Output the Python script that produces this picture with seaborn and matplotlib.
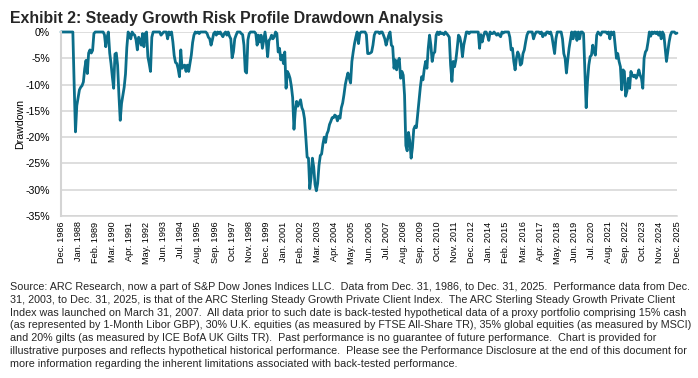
import matplotlib
matplotlib.use("Agg")
import matplotlib.pyplot as plt
import pandas as pd
import seaborn as sns

dd_1986 = [0.0]
dd_1987 = [0.0, 0.0, 0.0, 0.0, 0.0, 0.0, 0.0, 0.0, 0.0, -10.0, -19.0, -14.0]
dd_1988 = [-12.5, -11.0, -10.5, -10.2, -9.5, -7.0, -5.4, -7.9, -4.0, -3.4, -4.0, -3.5]
dd_1989 = [-0.3, 0.0, 0.0, 0.0, 0.0, 0.0, 0.0, 0.0, -0.5, -2.8, -1.0, 0.0]
dd_1990 = [-4.0, -6.0, -8.5, -10.7, -4.2, -4.0, -6.3, -12.0, -16.8, -13.6, -12.0, -10.5]
dd_1991 = [-8.0, -3.0, 0.0, -0.5, -1.3, 0.0, -0.4, -0.6, -1.5, -3.4, -1.0, -1.5]
dd_1992 = [-2.5, -0.3, -2.8, -0.3, 0.0, -4.7, -6.0, -7.5, -1.0, 0.0, 0.0, 0.0]
dd_1993 = [0.0, 0.0, 0.0, -0.6, -0.3, 0.0, 0.0, 0.0, -1.3, 0.0, -0.5, 0.0]
dd_1994 = [-1.9, -4.5, -5.8, -6.0, -7.0, -8.5, -3.4, -6.9, -6.5, -6.3, -7.5, -6.3]
dd_1995 = [-7.5, -6.0, -4.4, -2.0, -0.6, 0.0, -0.2, 0.0, -0.3, 0.0, 0.0, 0.0]
dd_1996 = [0.0, 0.0, -0.3, -1.0, -1.3, -2.5, -1.5, -0.3, 0.0, -0.6, 0.0, -0.3]
dd_1997 = [0.0, -0.5, -0.9, -0.3, 0.0, -0.6, 0.0, -0.8, -1.3, -4.9, -3.8, -1.3]
dd_1998 = [-0.6, 0.0, 0.0, 0.0, -0.3, -0.5, -2.5, -7.5, -7.8, -1.5, -0.3, 0.0]
dd_1999 = [0.0, 0.0, 0.0, -0.3, -2.5, -0.6, -1.9, -0.6, -3.1, -1.5, 0.0, -1.9]
dd_2000 = [-4.7, -1.6, -1.3, -0.6, -1.3, -0.9, 0.0, -0.3, -3.8, -3.1, -5.3, -4.4]
dd_2001 = [-6.0, -3.8, -10.7, -7.5, -8.0, -8.8, -10.3, -12.5, -18.5, -15.0, -13.2, -14.1]
dd_2002 = [-13.5, -12.9, -14.4, -15.0, -16.5, -20.0, -23.8, -24.0, -29.8, -27.6, -24.0, -25.7]
dd_2003 = [-29.0, -30.2, -28.8, -25.4, -23.5, -23.2, -21.3, -20.0, -21.0, -19.4, -18.8, -17.6]
dd_2004 = [-17.0, -16.3, -16.3, -15.8, -16.0, -16.9, -16.0, -16.4, -14.4, -13.5, -11.9, -10.0]
dd_2005 = [-8.8, -7.8, -8.8, -9.7, -5.6, -3.8, -2.2, -1.0, 0.0, -2.2, -0.3, 0.0]
dd_2006 = [0.0, 0.0, 0.0, -0.5, -4.1, -4.1, -4.0, -3.8, -2.5, -0.6, 0.0, 0.0]
dd_2007 = [0.0, -0.3, 0.0, 0.0, -0.6, -1.3, -2.5, -1.5, -0.6, 0.0, -2.5, -2.8]
dd_2008 = [-6.9, -5.3, -7.2, -5.6, -5.0, -8.8, -7.5, -8.2, -12.0, -21.6, -22.6, -19.1]
dd_2009 = [-20.7, -24.0, -22.0, -18.5, -17.9, -18.2, -15.7, -13.2, -10.5, -8.5, -9.1, -7.0]
dd_2010 = [-5.6, -6.9, -3.1, -0.6, -2.5, -5.6, -4.1, -3.8, -0.6, 0.0, -0.5, 0.0]
dd_2011 = [-0.3, -0.2, -0.5, 0.0, -0.3, -0.6, -1.0, -6.3, -9.4, -5.6, -6.6, -5.3]
dd_2012 = [-3.1, -0.6, -1.0, -2.2, -4.7, -2.5, -1.3, 0.0, 0.0, -0.3, 0.0, 0.0]
dd_2013 = [0.0, 0.0, 0.0, 0.0, 0.0, -3.1, -0.5, -1.9, -0.8, 0.0, 0.0, -0.6]
dd_2014 = [-1.6, 0.0, -0.3, -0.3, 0.0, -0.3, -0.6, -0.3, -0.6, -0.9, 0.0, -0.2]
dd_2015 = [0.0, 0.0, 0.0, 0.0, -1.0, -3.4, -3.1, -5.6, -7.2, -5.0, -3.8, -4.4]
dd_2016 = [-6.3, -6.0, -4.1, -3.4, -1.9, -0.6, 0.0, 0.0, 0.0, 0.0, -1.3, -0.5]
dd_2017 = [0.0, 0.0, 0.0, -0.3, 0.0, -0.9, -0.3, -0.6, 0.0, 0.0, -0.3, 0.0]
dd_2018 = [-0.9, -2.5, -4.1, -1.3, 0.0, 0.0, 0.0, 0.0, -1.3, -4.1, -5.0, -7.8]
dd_2019 = [-5.3, -3.1, -1.6, 0.0, -1.3, 0.0, 0.0, -1.6, 0.0, -1.3, 0.0, 0.0]
dd_2020 = [-0.3, -7.5, -14.4, -9.4, -6.3, -4.7, -4.4, -2.5, -3.8, -4.4, -0.6, 0.0]
dd_2021 = [-0.3, -0.6, 0.0, 0.0, 0.0, 0.0, -0.3, 0.0, -1.3, 0.0, -0.5, 0.0]
dd_2022 = [-2.5, -5.0, -4.1, -5.6, -6.6, -11.0, -7.2, -7.5, -12.2, -11.2, -8.8, -10.7]
dd_2023 = [-7.5, -8.2, -8.5, -8.2, -8.8, -8.2, -7.2, -8.2, -8.8, -10.7, -5.0, -3.8]
dd_2024 = [-3.4, -1.9, 0.0, -0.8, 0.0, -0.3, 0.0, -0.3, 0.0, -0.6, 0.0, -1.3]
dd_2025 = [0.0, -0.5, -3.1, -5.6, -3.8, -1.9, -0.6, 0.0, 0.0, 0.0, -0.3, -0.2]

yearly = [dd_1986, dd_1987, dd_1988, dd_1989, dd_1990, dd_1991, dd_1992, dd_1993,
          dd_1994, dd_1995, dd_1996, dd_1997, dd_1998, dd_1999, dd_2000, dd_2001,
          dd_2002, dd_2003, dd_2004, dd_2005, dd_2006, dd_2007, dd_2008, dd_2009,
          dd_2010, dd_2011, dd_2012, dd_2013, dd_2014, dd_2015, dd_2016, dd_2017,
          dd_2018, dd_2019, dd_2020, dd_2021, dd_2022, dd_2023, dd_2024, dd_2025]
drawdown = [v for year in yearly for v in year]

months = pd.date_range("1986-12-31", periods=len(drawdown), freq="ME")
tick_step = 13  # the exhibit labels every 13th month
y_ticks = [0, -5, -10, -15, -20, -25, -30, -35]

title = "Exhibit 2: Steady Growth Risk Profile Drawdown Analysis"
footnote_lines = [
    "Source: ARC Research, now a part of S&P Dow Jones Indices LLC.  Data from Dec. 31, 1986, to Dec. 31, 2025.  Performance data from Dec.",
    "31, 2003, to Dec. 31, 2025, is that of the ARC Sterling Steady Growth Private Client Index.  The ARC Sterling Steady Growth Private Client",
    "Index was launched on March 31, 2007.  All data prior to such date is back-tested hypothetical data of a proxy portfolio comprising 15% cash",
    "(as represented by 1-Month Libor GBP), 30% U.K. equities (as measured by FTSE All-Share TR), 35% global equities (as measured by MSCI)",
    "and 20% gilts (as measured by ICE BofA UK Gilts TR).  Past performance is no guarantee of future performance.  Chart is provided for",
    "illustrative purposes and reflects hypothetical historical performance.  Please see the Performance Disclosure at the end of this document for",
    "more information regarding the inherent limitations associated with back-tested performance.",
]

df = pd.DataFrame({"month": range(len(drawdown)), "date": months, "drawdown": drawdown})

sns.set_theme(style="white")
plt.rcParams["font.family"] = ["Liberation Sans", "DejaVu Sans"]

W, H = 698, 378
fig = plt.figure(figsize=(W / 100, H / 100), dpi=100)
ax = fig.add_axes([61 / W, 1 - 216 / H, (677 - 61) / W, (216 - 32) / H])

sns.lineplot(data=df, x="month", y="drawdown", color="#0b6e8a", linewidth=2.0, ax=ax)
ax.lines[0].set_clip_on(False)

ax.set_xlim(0, len(drawdown) - 1)
ax.set_ylim(-35, 0)
ax.set_yticks(y_ticks)
ax.set_yticklabels([f"{t}%" for t in y_ticks], fontsize=7.6, color="black")
ax.set_xticks(range(0, len(drawdown), tick_step))
ax.set_xticklabels([d.strftime("%b. %Y") for d in months[::tick_step]],
                   rotation=90, fontsize=6.6, color="black")
ax.tick_params(axis="y", length=0, pad=8)
ax.tick_params(axis="x", length=0, pad=4)

ax.yaxis.grid(True, color="#d4d4d4", linewidth=1.1)
ax.xaxis.grid(False)
ax.set_axisbelow(True)
for side in ["top", "right"]:
    ax.spines[side].set_visible(False)
ax.spines["left"].set_color("#d4d4d4")
ax.spines["left"].set_linewidth(1.5)
ax.spines["bottom"].set_color("#d4d4d4")
ax.spines["bottom"].set_linewidth(1.1)

ax.set_xlabel("")
ax.set_ylabel("Drawdown", fontsize=7.6, color="black", labelpad=0)

fig.text(10 / W, 1 - 18 / H, title, fontsize=11.4, fontweight="bold", va="center", ha="left")

for k, line in enumerate(footnote_lines):
    fig.text(10 / W, 1 - (287 + k * 12.8) / H, line, fontsize=7.75, va="center", ha="left")

fig.savefig("out.png", dpi=100)
